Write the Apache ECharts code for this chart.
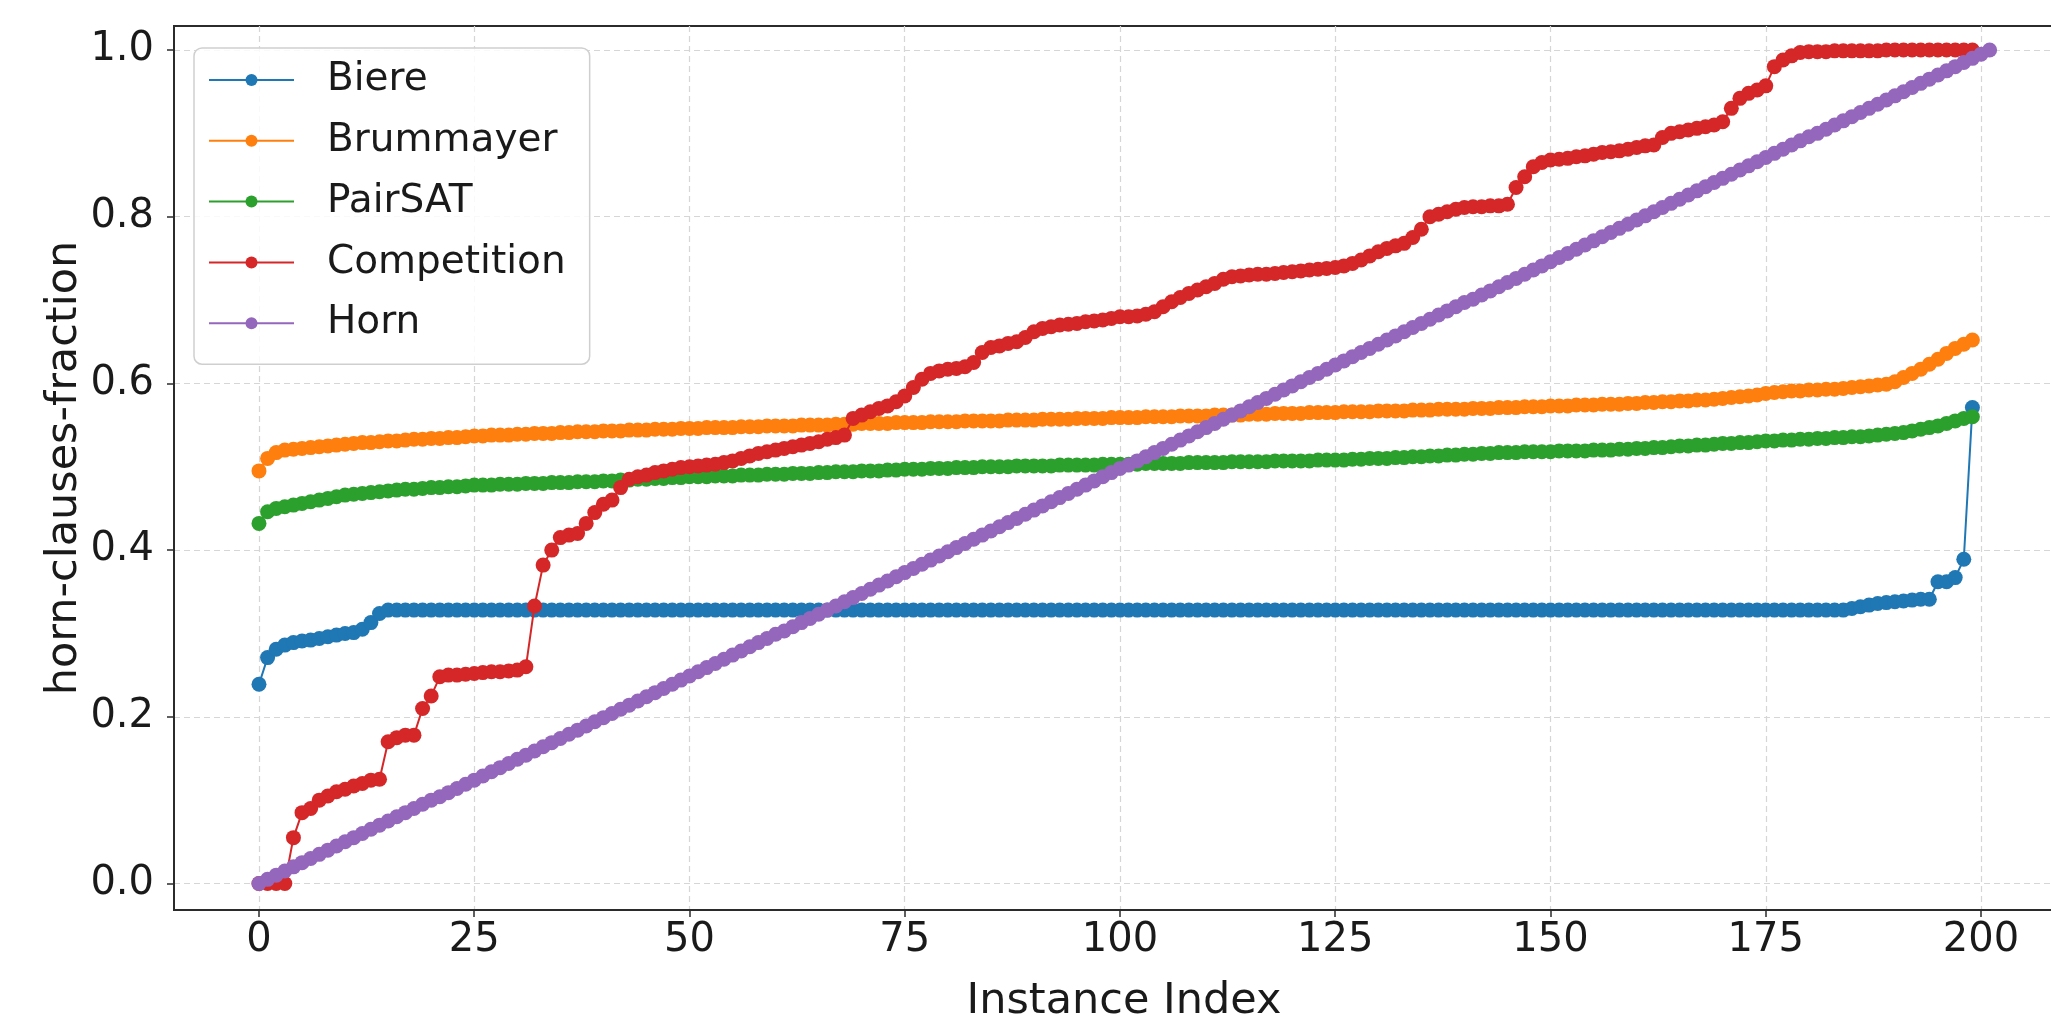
<!DOCTYPE html>
<html><head><meta charset="utf-8">
<script src="https://cdn.jsdelivr.net/npm/echarts@6/dist/echarts.min.js"></script>
<style>html,body{margin:0;padding:0;background:#fff}#c{width:2051px;height:1021px}</style>
</head><body><div id="c"></div><script>
const seriesNames = ['Biere', 'Brummayer', 'PairSAT', 'Competition', 'Horn'];
const xTicks = [0, 25, 50, 75, 100, 125, 150, 175, 200];
const yTicks = [0, 0.2, 0.4, 0.6, 0.8, 1.0];

const biere = [
0.239,0.271,0.281,0.286,0.289,0.291,0.292,0.294,0.296,0.298,
0.300,0.301,0.305,0.313,0.324,0.328,0.328,0.328,0.328,0.328,
0.328,0.328,0.328,0.328,0.328,0.328,0.328,0.328,0.328,0.328,
0.328,0.328,0.328,0.328,0.328,0.328,0.328,0.328,0.328,0.328,
0.328,0.328,0.328,0.328,0.328,0.328,0.328,0.328,0.328,0.328,
0.328,0.328,0.328,0.328,0.328,0.328,0.328,0.328,0.328,0.328,
0.328,0.328,0.328,0.328,0.328,0.328,0.328,0.328,0.328,0.328,
0.328,0.328,0.328,0.328,0.328,0.328,0.328,0.328,0.328,0.328,
0.328,0.328,0.328,0.328,0.328,0.328,0.328,0.328,0.328,0.328,
0.328,0.328,0.328,0.328,0.328,0.328,0.328,0.328,0.328,0.328,
0.328,0.328,0.328,0.328,0.328,0.328,0.328,0.328,0.328,0.328,
0.328,0.328,0.328,0.328,0.328,0.328,0.328,0.328,0.328,0.328,
0.328,0.328,0.328,0.328,0.328,0.328,0.328,0.328,0.328,0.328,
0.328,0.328,0.328,0.328,0.328,0.328,0.328,0.328,0.328,0.328,
0.328,0.328,0.328,0.328,0.328,0.328,0.328,0.328,0.328,0.328,
0.328,0.328,0.328,0.328,0.328,0.328,0.328,0.328,0.328,0.328,
0.328,0.328,0.328,0.328,0.328,0.328,0.328,0.328,0.328,0.328,
0.328,0.328,0.328,0.328,0.328,0.328,0.328,0.328,0.328,0.328,
0.328,0.328,0.328,0.328,0.328,0.330,0.332,0.334,0.336,0.337,
0.338,0.339,0.340,0.341,0.341,0.362,0.362,0.367,0.389,0.419
];
biere[199] = 0.571;

const brummayer = [
0.495,0.510,0.517,0.520,0.521,0.522,0.523,0.524,0.525,0.526,
0.527,0.528,0.529,0.529,0.530,0.531,0.531,0.532,0.533,0.533,
0.534,0.534,0.535,0.535,0.536,0.537,0.537,0.538,0.538,0.538,
0.539,0.539,0.540,0.540,0.540,0.541,0.541,0.542,0.542,0.542,
0.543,0.543,0.543,0.544,0.544,0.544,0.545,0.545,0.545,0.546,
0.546,0.546,0.547,0.547,0.547,0.547,0.548,0.548,0.548,0.549,
0.549,0.549,0.549,0.550,0.550,0.550,0.550,0.551,0.551,0.551,
0.552,0.552,0.552,0.552,0.553,0.553,0.553,0.553,0.554,0.554,
0.554,0.554,0.555,0.555,0.555,0.555,0.555,0.556,0.556,0.556,
0.556,0.557,0.557,0.557,0.557,0.558,0.558,0.558,0.558,0.559,
0.559,0.559,0.559,0.560,0.560,0.560,0.560,0.561,0.561,0.561,
0.561,0.562,0.562,0.562,0.562,0.563,0.563,0.563,0.564,0.564,
0.564,0.564,0.565,0.565,0.565,0.565,0.566,0.566,0.566,0.566,
0.567,0.567,0.567,0.567,0.568,0.568,0.568,0.569,0.569,0.569,
0.569,0.570,0.570,0.570,0.571,0.571,0.571,0.572,0.572,0.572,
0.573,0.573,0.573,0.574,0.574,0.574,0.575,0.575,0.575,0.576,
0.576,0.577,0.577,0.578,0.578,0.579,0.579,0.580,0.580,0.581,
0.582,0.583,0.584,0.585,0.586,0.588,0.589,0.590,0.591,0.591,
0.592,0.592,0.593,0.593,0.594,0.595,0.596,0.597,0.598,0.599,
0.602,0.607,0.612,0.617,0.623,0.629,0.636,0.642,0.647,0.652
];

const pairsat = [
0.432,0.446,0.450,0.452,0.454,0.456,0.458,0.460,0.462,0.464,
0.466,0.467,0.468,0.469,0.470,0.471,0.472,0.473,0.473,0.474,
0.475,0.475,0.476,0.476,0.477,0.478,0.478,0.478,0.479,0.479,
0.479,0.480,0.480,0.480,0.481,0.481,0.481,0.482,0.482,0.482,
0.483,0.483,0.484,0.484,0.485,0.485,0.486,0.486,0.487,0.487,
0.488,0.488,0.488,0.489,0.489,0.489,0.490,0.490,0.490,0.491,
0.491,0.491,0.492,0.492,0.492,0.493,0.493,0.494,0.494,0.494,
0.495,0.495,0.495,0.496,0.496,0.497,0.497,0.497,0.498,0.498,
0.498,0.499,0.499,0.499,0.500,0.500,0.500,0.500,0.501,0.501,
0.501,0.501,0.501,0.502,0.502,0.502,0.502,0.502,0.503,0.503,
0.503,0.503,0.503,0.504,0.504,0.504,0.504,0.504,0.505,0.505,
0.505,0.505,0.505,0.506,0.506,0.506,0.506,0.506,0.507,0.507,
0.507,0.507,0.507,0.508,0.508,0.508,0.508,0.509,0.509,0.510,
0.510,0.510,0.511,0.511,0.512,0.512,0.513,0.513,0.514,0.514,
0.515,0.515,0.516,0.516,0.517,0.517,0.517,0.518,0.518,0.518,
0.518,0.519,0.519,0.519,0.519,0.520,0.520,0.520,0.521,0.521,
0.522,0.522,0.523,0.523,0.524,0.525,0.525,0.526,0.526,0.527,
0.528,0.528,0.529,0.529,0.530,0.531,0.531,0.532,0.532,0.533,
0.533,0.534,0.534,0.535,0.535,0.536,0.536,0.537,0.538,0.539,
0.540,0.541,0.543,0.545,0.547,0.549,0.552,0.555,0.558,0.560
];

const competition = [
0.000,0.000,0.000,0.000,0.055,0.085,0.090,0.100,0.105,0.110,
0.113,0.117,0.120,0.124,0.125,0.170,0.175,0.178,0.178,0.210,
0.225,0.248,0.250,0.250,0.251,0.252,0.253,0.254,0.254,0.255,
0.256,0.260,0.333,0.382,0.400,0.415,0.418,0.420,0.432,0.445,
0.455,0.460,0.475,0.485,0.488,0.490,0.493,0.495,0.497,0.499,
0.500,0.501,0.502,0.503,0.505,0.507,0.510,0.513,0.516,0.518,
0.520,0.522,0.524,0.526,0.528,0.530,0.533,0.535,0.538,0.558,
0.562,0.566,0.570,0.573,0.578,0.585,0.595,0.605,0.612,0.615,
0.617,0.618,0.620,0.625,0.637,0.643,0.645,0.648,0.650,0.655,
0.662,0.666,0.668,0.670,0.671,0.672,0.674,0.675,0.676,0.678,
0.680,0.680,0.681,0.683,0.686,0.692,0.698,0.703,0.708,0.712,
0.716,0.720,0.725,0.728,0.729,0.730,0.731,0.731,0.732,0.733,
0.734,0.735,0.736,0.737,0.738,0.739,0.741,0.744,0.748,0.753,
0.758,0.762,0.765,0.768,0.775,0.785,0.800,0.803,0.806,0.809,
0.811,0.812,0.812,0.813,0.813,0.815,0.835,0.848,0.860,0.865,
0.868,0.869,0.870,0.872,0.873,0.875,0.877,0.878,0.879,0.881,
0.883,0.885,0.886,0.895,0.900,0.902,0.904,0.906,0.908,0.910,
0.914,0.930,0.942,0.948,0.952,0.957,0.980,0.988,0.993,0.997,
0.998,0.998,0.998,0.999,0.999,0.999,0.999,0.999,0.999,1.000,
1.000,1.000,1.000,1.000,1.000,1.000,1.000,1.000,1.000,1.000
];

const horn = [
0.000,0.005,0.010,0.015,0.020,0.025,0.030,0.035,0.040,0.045,
0.050,0.055,0.060,0.065,0.070,0.075,0.080,0.085,0.090,0.095,
0.100,0.104,0.109,0.114,0.119,0.124,0.129,0.134,0.139,0.144,
0.149,0.154,0.159,0.164,0.169,0.174,0.179,0.184,0.189,0.194,
0.199,0.204,0.209,0.214,0.219,0.224,0.229,0.234,0.239,0.244,
0.249,0.254,0.259,0.264,0.269,0.274,0.279,0.284,0.289,0.294,
0.299,0.303,0.308,0.313,0.318,0.323,0.328,0.333,0.338,0.343,
0.348,0.353,0.358,0.363,0.368,0.373,0.378,0.383,0.388,0.393,
0.398,0.403,0.408,0.413,0.418,0.423,0.428,0.433,0.438,0.443,
0.448,0.453,0.458,0.463,0.468,0.473,0.478,0.483,0.488,0.493,
0.498,0.502,0.507,0.512,0.517,0.522,0.527,0.532,0.537,0.542,
0.547,0.552,0.557,0.562,0.567,0.572,0.577,0.582,0.587,0.592,
0.597,0.602,0.607,0.612,0.617,0.622,0.627,0.632,0.637,0.642,
0.647,0.652,0.657,0.662,0.667,0.672,0.677,0.682,0.687,0.692,
0.697,0.701,0.706,0.711,0.716,0.721,0.726,0.731,0.736,0.741,
0.746,0.751,0.756,0.761,0.766,0.771,0.776,0.781,0.786,0.791,
0.796,0.801,0.806,0.811,0.816,0.821,0.826,0.831,0.836,0.841,
0.846,0.851,0.856,0.861,0.866,0.871,0.876,0.881,0.886,0.891,
0.896,0.900,0.905,0.910,0.915,0.920,0.925,0.930,0.935,0.940,
0.945,0.950,0.955,0.960,0.965,0.970,0.975,0.980,0.985,0.990,
0.995,1.000
];

const colors = ['#1f77b4', '#ff7f0e', '#2ca02c', '#d62728', '#9467bd'];
const allData = [biere, brummayer, pairsat, competition, horn];

const FONT = 'DejaVu Sans';
const TEXT = '#1a1a1a';
const AXIS = '#2b2b2b';

const chart = echarts.init(document.getElementById('c'), null, { renderer: 'canvas' });
chart.setOption({
  animation: false,
  backgroundColor: '#ffffff',
  textStyle: { fontFamily: FONT },
  grid: {
    left: 174, top: 26, width: 1900, bottom: 111,
    containLabel: false, outerBoundsMode: 'none',
    show: true, borderColor: AXIS, borderWidth: 2, backgroundColor: '#ffffff'
  },
  legend: {
    orient: 'vertical', left: 194, top: 48,
    padding: [12, 24, 21, 14],
    itemWidth: 85, itemHeight: 15, itemGap: 20.8,
    backgroundColor: 'rgba(255,255,255,0.85)',
    borderColor: '#cfcfcf', borderWidth: 1.5, borderRadius: 8,
    textStyle: { fontSize: 39, color: TEXT, fontFamily: FONT, lineHeight: 40, padding: [0, 0, 0, 28] },
    data: seriesNames
  },
  xAxis: {
    type: 'value', min: -9.87, max: 210.8,
    name: 'Instance Index', nameLocation: 'middle', nameGap: 70,
    nameTextStyle: { fontSize: 43, color: TEXT, fontFamily: FONT },
    axisLine: { show: true, onZero: false, lineStyle: { color: AXIS, width: 2 } },
    axisTick: { show: true, inside: false, length: 7, customValues: xTicks, lineStyle: { color: AXIS, width: 1.5 } },
    axisLabel: { customValues: xTicks, fontSize: 40, color: TEXT, fontFamily: FONT, margin: 11 },
    splitLine: { show: true, lineStyle: { color: '#d6d6d6', width: 1.2, type: [6, 4] } }
  },
  yAxis: {
    type: 'value', min: -0.0318, max: 1.0288,
    name: 'horn-clauses-fraction', nameLocation: 'middle', nameGap: 88, nameMoveOverlap: false,
    nameTextStyle: { fontSize: 43, color: TEXT, fontFamily: FONT },
    axisLine: { show: true, onZero: false, lineStyle: { color: AXIS, width: 2 } },
    axisTick: { show: true, inside: false, length: 7, customValues: yTicks, lineStyle: { color: AXIS, width: 1.5 } },
    axisLabel: { customValues: yTicks, fontSize: 40, color: TEXT, fontFamily: FONT, margin: 20,
      formatter: v => Number(v).toFixed(1) },
    splitLine: { show: true, lineStyle: { color: '#d6d6d6', width: 1.2, type: [6, 4] } }
  },
  series: seriesNames.map((name, k) => ({
    name, type: 'line',
    data: allData[k].map((v, i) => [i, v]),
    symbol: 'circle', symbolSize: 15, showSymbol: true, showAllSymbol: true,
    lineStyle: { width: 2, color: colors[k] },
    itemStyle: { color: colors[k] },
    emphasis: { disabled: true },
    z: 2 + k * 0.01
  }))
});
</script></body></html>
